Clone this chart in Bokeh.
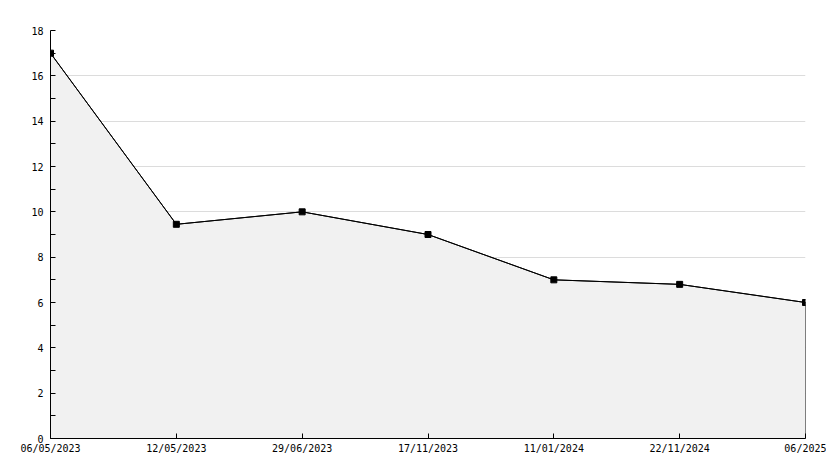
from bokeh.plotting import figure
from bokeh.models import FixedTicker, Range1d
from bokeh.embed import file_html
from bokeh.resources import INLINE

dates = ["06/05/2023", "12/05/2023", "29/06/2023", "17/11/2023", "11/01/2024", "22/11/2024", "06/2025"]
values = [17.0, 9.45, 10.0, 9.0, 7.0, 6.8, 6.0]
y_ticks = [0, 2, 4, 6, 8, 10, 12, 14, 16, 18]
y_minor = [1, 3, 5, 7, 9, 11, 13, 15, 17]

xs = list(range(len(dates)))

p = figure(width=826, height=460, output_backend="svg", toolbar_location=None,
           x_range=Range1d(0, len(dates) - 1), y_range=Range1d(0, 18),
           min_border_left=50, min_border_top=30, min_border_right=21, min_border_bottom=22)
p.outline_line_color = None
p.background_fill_color = "white"

poly_x = xs + [xs[-1], xs[0]]
poly_y = values + [0, 0]
p.patch(poly_x, poly_y, fill_color="#f1f1f1", line_color="black", line_width=1)
p.line(xs, values, line_color="black", line_width=1)
p.scatter(xs, values, marker="square", size=6, color="black")

font = "DejaVu Sans Mono"

p.xaxis.ticker = FixedTicker(ticks=xs)
p.xaxis.major_label_overrides = {i: d for i, d in enumerate(dates)}
p.yaxis.ticker = FixedTicker(ticks=y_ticks, minor_ticks=y_minor)

for ax in (p.xaxis[0], p.yaxis[0]):
    ax.axis_line_color = "black"
    ax.axis_line_width = 1
    ax.major_tick_in = 5
    ax.major_tick_out = 0
    ax.minor_tick_in = 5
    ax.minor_tick_out = 0
    ax.major_tick_line_color = "black"
    ax.minor_tick_line_color = "black"
    ax.major_label_text_font = font
    ax.major_label_text_font_size = "10px"
    ax.major_label_text_color = "black"
p.xaxis.major_label_standoff = 4
p.yaxis.major_label_standoff = 7

p.xgrid.grid_line_color = None
p.ygrid.grid_line_color = "#dcdcdc"
p.ygrid.grid_line_width = 1

open("out.html", "w").write(file_html(p, INLINE))
